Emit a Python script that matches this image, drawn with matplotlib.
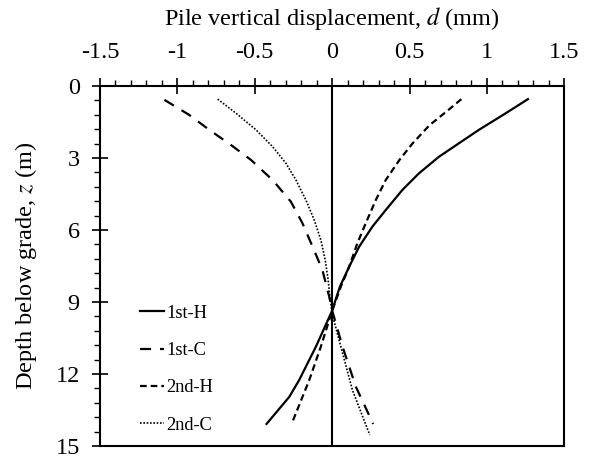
import matplotlib.pyplot as plt
from matplotlib.ticker import MultipleLocator

plt.rcParams["font.family"] = ["Liberation Serif", "DejaVu Serif"]
plt.rcParams["mathtext.fontset"] = "stix"

# ---------------------------------------------------------------------------
# Datos (z en m, d en mm)
# ---------------------------------------------------------------------------
z_1h = [0.55, 1.14, 1.83, 2.39, 2.95, 3.64, 4.33, 5.17, 5.86, 6.70, 7.53, 8.36, 8.85, 9.36, 10.86, 12.25, 12.95, 14.08]
d_1h = [1.265, 1.121, 0.948, 0.819, 0.690, 0.561, 0.454, 0.346, 0.260, 0.174, 0.110, 0.050, 0.025, 0.0, -0.105, -0.213, -0.277, -0.424]

z_1c = [0.58, 1.21, 1.83, 2.46, 3.08, 3.92, 4.82, 5.72, 6.69, 7.67, 8.78, 9.36, 10.86, 12.53, 14.08]
d_1c = [-1.084, -0.923, -0.794, -0.654, -0.525, -0.385, -0.267, -0.192, -0.127, -0.063, -0.019, 0.0, 0.067, 0.153, 0.265]

z_2h = [0.55, 1.07, 1.63, 2.39, 3.08, 3.92, 4.75, 5.72, 6.55, 7.53, 8.36, 9.36, 10.86, 12.25, 14.08]
d_2h = [0.835, 0.738, 0.63, 0.52, 0.435, 0.346, 0.282, 0.217, 0.163, 0.11, 0.056, 0.0, -0.073, -0.148, -0.262]

z_2c = [0.55, 1.14, 1.83, 2.53, 3.22, 3.92, 4.75, 5.58, 6.42, 7.25, 8.08, 8.78, 9.5, 10.86, 12.67, 14.54]
d_2c = [-0.74, -0.621, -0.492, -0.385, -0.299, -0.234, -0.17, -0.116, -0.073, -0.045, -0.026, -0.015, 0.0, 0.056, 0.131, 0.243]

x_ticks = [-1.5, -1, -0.5, 0, 0.5, 1, 1.5]
x_ticklabels = ["-1.5", "-1", "-0.5", "0", "0.5", "1", "1.5"]

# ---------------------------------------------------------------------------
# Plot
# ---------------------------------------------------------------------------
fig = plt.figure(figsize=(5.9, 4.57), dpi=100)
ax = fig.add_axes([0.1695, 0.024, 0.787, 0.788])

ax.axvline(0, color="black", linewidth=1.5)
ax.plot(d_1h, z_1h, color="black", linewidth=1.6, label="1st-H")
ax.plot(d_1c, z_1c, color="black", linewidth=1.6, linestyle=(0, (5, 4)), label="1st-C")
ax.plot(d_2h, z_2h, color="black", linewidth=1.6, linestyle=(0, (3, 1.8)), label="2nd-H")
ax.plot(d_2c, z_2c, color="black", linewidth=1.2, linestyle=(0, (1, 1)), label="2nd-C")

ax.set_xlim(-1.5, 1.5)
ax.set_ylim(15, 0)
ax.set_xticks(x_ticks)
ax.set_xticklabels(x_ticklabels)
ax.xaxis.set_minor_locator(MultipleLocator(0.1))
ax.yaxis.set_major_locator(MultipleLocator(3))
ax.yaxis.set_minor_locator(MultipleLocator(0.6))
ax.xaxis.tick_top()
ax.xaxis.set_label_position("top")

ax.tick_params(which="major", direction="inout", length=11, width=1.2,
               labelsize=17.5)
ax.tick_params(axis="x", which="major", pad=11)
ax.tick_params(axis="y", which="major", pad=9)
ax.tick_params(which="minor", direction="out", length=4.5, width=1.0)
ax.tick_params(axis="x", which="both", top=True, bottom=False)
ax.tick_params(axis="y", which="both", left=True, right=False)

for s in ax.spines.values():
    s.set_linewidth(1.5)

ax.set_xlabel("Pile vertical displacement, $\\it{d}$ (mm)", fontsize=17.5, labelpad=12)
ax.set_ylabel("Depth below grade, $\\it{z}$ (m)", fontsize=17.5, labelpad=12)

ax.legend(loc="lower left", frameon=False, fontsize=13.3, handlelength=1.3,
          handletextpad=0.15, labelspacing=1.1, bbox_to_anchor=(0.05, -0.012))

plt.savefig("out.png", dpi=100)
